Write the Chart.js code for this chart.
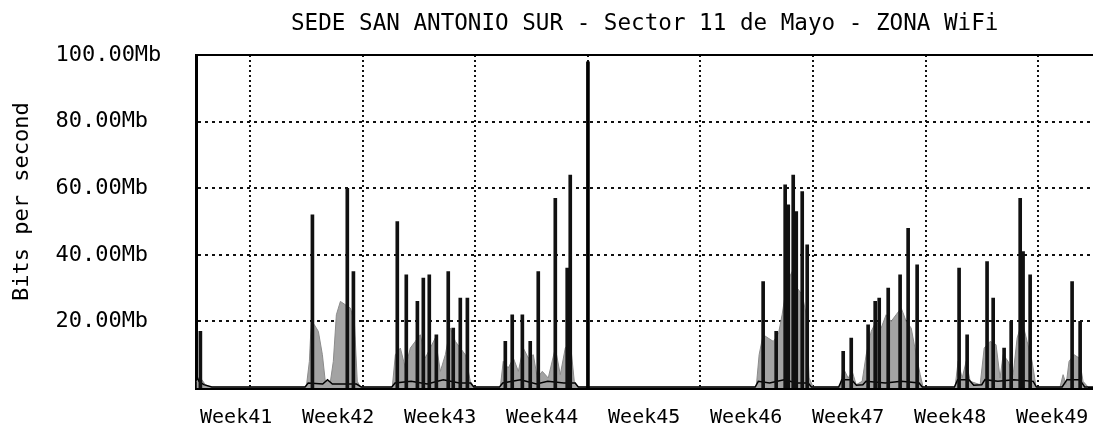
<!DOCTYPE html>
<html>
<head>
<meta charset="utf-8">
<script src="https://cdn.jsdelivr.net/npm/chart.js@4.4.0/dist/chart.umd.min.js"></script>
<style>
html,body{margin:0;padding:0;background:#fff;}
#wrap{width:1093px;height:432px;}
</style>
</head>
<body>
<div id="wrap"><canvas id="c" width="1093" height="432"></canvas></div>
<script>
// ---- data (x in days from start of Week42 grid line) ----
const chartTitle = 'SEDE SAN ANTONIO SUR - Sector 11 de Mayo - ZONA WiFi';
const yAxisTitle = 'Bits per second';
const weekLabels = ['Week41','Week42','Week43','Week44','Week45','Week46','Week47','Week48','Week49'];
const weekStartDays = [0, 7, 14, 21, 28, 35, 42, 49];
const yTickValues = [20, 40, 60, 80, 100];
const yTickLabels = ['20.00Mb', '40.00Mb', '60.00Mb', '80.00Mb', '100.00Mb'];

// peak (black) spikes
const spikeDays = [-3.11,
  3.86, 6.03, 6.41,
  9.14, 9.70, 10.39, 10.76, 11.13, 11.57, 12.31, 12.62, 13.06, 13.50,
  15.86, 16.29, 16.92, 17.41, 17.91, 18.97, 19.71, 19.90,
  31.90, 32.71, 33.27, 33.46, 33.77, 33.96, 34.33, 34.64,
  36.88, 37.38, 38.43, 38.87, 39.12, 39.68, 40.42, 40.92, 41.48,
  44.09, 44.59, 45.83, 46.21, 46.89, 47.33, 47.89, 48.07, 48.51,
  51.12, 51.62];
const spikeMbps = [17,
  52, 60, 35,
  50, 34, 26, 33, 34, 16, 35, 18, 27, 27,
  14, 22, 22, 14, 35, 57, 36, 64,
  32, 17, 61, 55, 64, 53, 59, 43,
  11, 15, 19, 26, 27, 30, 34, 48, 37,
  36, 16, 38, 27, 12, 20, 57, 41, 34,
  32, 20];

// average (grey area)
const avgDays = [-3.36, -3.1, -2.8, -2.5,
  3.48, 3.67, 3.79, 3.98, 4.23, 4.48, 4.66, 4.98, 5.16, 5.35, 5.60, 5.91, 6.22, 6.47, 6.65, 6.84,
  8.83, 9.02, 9.33, 9.64, 9.95, 10.26, 10.57, 10.88, 11.19, 11.50, 11.82, 12.13, 12.44, 12.75, 13.06, 13.37, 13.68, 13.93,
  15.55, 15.73, 16.04, 16.36, 16.67, 16.98, 17.29, 17.60, 17.85, 18.16, 18.53, 18.97, 19.28, 19.59, 19.90, 20.15, 20.40,
  31.47, 31.65, 31.90, 32.21, 32.53, 32.84, 33.08, 33.40, 33.71, 34.02, 34.33, 34.58, 34.76, 35.01,
  36.69, 36.88, 37.19, 37.44, 37.69, 38.06, 38.31, 38.62, 38.93, 39.24, 39.55, 39.86, 40.17, 40.49, 40.80, 41.11, 41.42, 41.67, 41.85,
  43.84, 44.03, 44.28, 44.53, 44.78, 45.40, 45.65, 46.02, 46.39, 46.64, 46.83, 47.14, 47.45, 47.70, 48.01, 48.32, 48.63, 48.88,
  50.37, 50.56, 50.75, 50.93, 51.24, 51.56, 51.80, 52.11];
const avgMbps = [2, 3, 1, 0.3,
  0.3, 8, 20, 19, 17, 10, 2, 2, 8, 22, 26, 25, 24, 20, 2, 0.3,
  0.3, 10, 12, 6, 12, 14, 16, 9, 12, 15, 5, 10, 18, 14, 12, 10, 2, 0.3,
  0.3, 8, 6, 9, 5, 12, 9, 10, 3, 5, 3, 12, 4, 12, 14, 2, 0.3,
  0.3, 10, 16, 15, 14, 16, 22, 32, 35, 30, 28, 22, 3, 0.3,
  0.3, 6, 3, 5, 1, 2, 10, 17, 20, 18, 22, 20, 22, 24, 20, 18, 10, 4, 0.3,
  0.3, 8, 3, 8, 2, 1, 12, 14, 13, 3, 10, 8, 4, 15, 20, 14, 8, 0.3,
  0.3, 4, 1, 8, 10, 9, 2, 0.3];

// base outline (black thin line)
const baseDays = [-3.36, -3.2, -2.9, -2.4, 3.4, 3.6, 4.5, 4.8, 5.1, 6.6, 6.9, 8.8, 9.0, 10.0, 11.0, 12.0, 13.0, 13.7, 13.9,
  15.5, 15.7, 16.8, 17.8, 18.5, 19.5, 20.2, 20.4, 31.4, 31.6, 32.3, 33.2, 34.0, 34.7, 34.9,
  36.6, 36.8, 37.4, 37.7, 38.1, 38.3, 39.5, 40.5, 41.6, 41.8, 43.8, 44.0, 44.7, 45.0, 45.5, 45.7, 46.5, 47.5, 48.7, 48.9,
  50.5, 50.8, 51.6, 51.9, 52.42];
const baseMbps = [4, 2, 1, 0.3, 0.3, 1.5, 1.2, 2.5, 1.2, 1.2, 0.3, 0.3, 1.5, 2, 1.2, 2.5, 1.5, 1.5, 0.3,
  0.3, 1.5, 2.5, 1.2, 2, 1.5, 1.5, 0.3, 0.3, 2, 1.5, 2.5, 1.5, 1.5, 0.3,
  0.3, 2.5, 2.5, 0.8, 1, 2, 1.5, 2, 1.5, 0.3, 0.3, 2.5, 2.5, 0.8, 1, 2.5, 2, 2.5, 2, 0.3,
  0.3, 2.5, 2.5, 0.3, 0.3];

// month start marker
const markerDays = [21];
const markerMbps = [98];

// ---- chart ----
const FONT = "'DejaVu Sans Mono', 'Liberation Mono', monospace";
const pts = (xs, ys) => xs.map((x, i) => ({x: x, y: ys[i]}));
const X_MIN = -3.36, X_MAX = 52.42;

new Chart(document.getElementById('c'), {
  type: 'bar',
  data: {
    datasets: [
      {type: 'bar', label: 'Month', data: pts(markerDays, markerMbps), backgroundColor: '#000',
       barThickness: 3, grouped: false, order: 0},
      {type: 'bar', label: 'Peak', data: pts(spikeDays, spikeMbps), backgroundColor: '#111',
       barThickness: 3, grouped: false, order: 1},
      {type: 'line', label: 'Base', data: pts(baseDays, baseMbps), borderColor: '#000', borderWidth: 1.5,
       pointRadius: 0, fill: false, tension: 0, order: 1},
      {type: 'line', label: 'Average', data: pts(avgDays, avgMbps), borderColor: '#8c8c8c', borderWidth: 1,
       backgroundColor: '#a3a3a3', fill: 'origin', pointRadius: 0, tension: 0, order: 2}
    ]
  },
  options: {
    responsive: false,
    animation: false,
    layout: {padding: {left: 0, right: 0, top: 0, bottom: -16}},
    plugins: {
      legend: {display: false},
      tooltip: {enabled: false},
      title: {display: true, text: chartTitle, fullSize: false, color: '#000',
              font: {family: FONT, size: 22.6, weight: 'normal'}, padding: {top: 11, bottom: 17}}
    },
    scales: {
      x: {type: 'linear', position: 'bottom', min: X_MIN, max: X_MAX, offset: false, weight: 0,
          afterBuildTicks: s => { s.ticks = weekStartDays.map(v => ({value: v})); },
          ticks: {display: false},
          grid: {display: true, offset: false, color: '#111', lineWidth: 2, drawTicks: false},
          border: {display: true, color: '#000', width: 3, dash: [2, 3]}},
      xTop: {type: 'linear', position: 'top', min: X_MIN, max: X_MAX, offset: false,
             ticks: {display: false}, grid: {display: false, drawTicks: false},
             border: {display: true, color: '#000', width: 2}},
      weeks: {type: 'linear', position: 'bottom', min: -0.39, max: 8.4, offset: false, weight: 1,
              afterBuildTicks: s => { s.ticks = weekLabels.map((_, i) => ({value: i})); },
              ticks: {callback: v => weekLabels[Math.round(v)], autoSkip: false, maxRotation: 0,
                      padding: 0, color: '#000', font: {family: FONT, size: 20, lineHeight: 3}},
              grid: {display: false, offset: false, drawTicks: false}, border: {display: false}},
      y: {type: 'linear', position: 'left', min: 0, max: 100, weight: 0,
          afterBuildTicks: s => { s.ticks = yTickValues.map(v => ({value: v})); },
          ticks: {callback: v => yTickLabels[yTickValues.indexOf(v)], crossAlign: 'far', padding: 17.5,
                  color: '#000', font: {family: FONT, size: 22}},
          grid: {display: true, color: '#111', lineWidth: 2, drawTicks: false},
          border: {display: true, color: '#000', width: 3, dash: [3, 4]}},
      yTitle: {type: 'linear', position: 'left', min: 0, max: 100, weight: 1,
               ticks: {display: false}, grid: {display: false, drawTicks: false}, border: {display: false},
               title: {display: true, text: '   ' + yAxisTitle, color: '#000', font: {family: FONT, size: 22},
                       padding: {top: 9, bottom: 20}}}
    }
  }
});
</script>
</body>
</html>
